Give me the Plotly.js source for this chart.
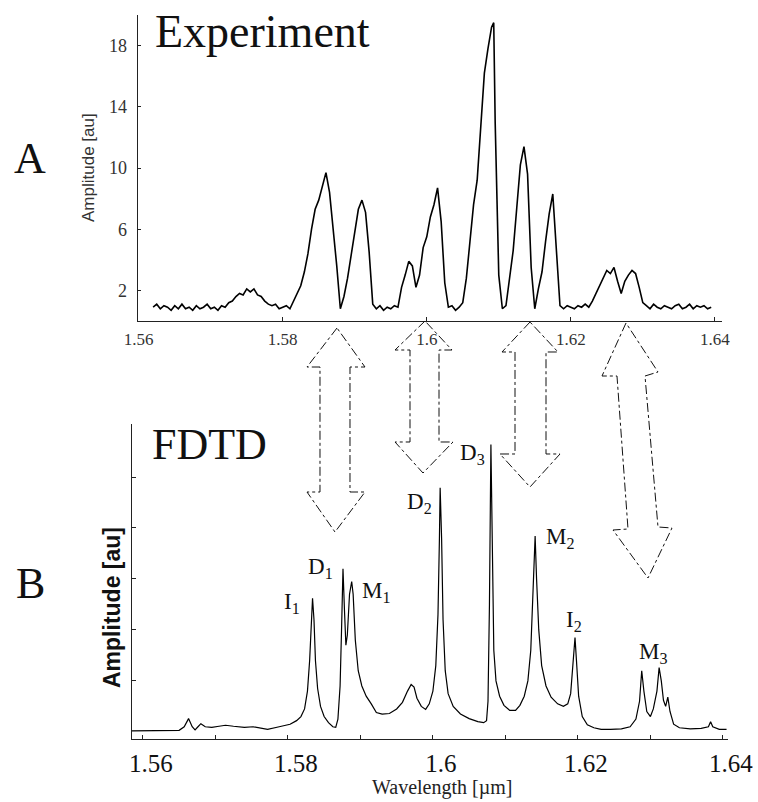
<!DOCTYPE html>
<html><head><meta charset="utf-8">
<script src="https://cdn.plot.ly/plotly-3.0.1.min.js"></script>
<style>html,body{margin:0;padding:0;background:#fff}#chart{width:758px;height:802px}</style>
</head><body><div id="chart"></div>
<script>
// ---------- Experiment (panel A) ----------
const expWavelength = [
1.5620,1.5625,1.5630,1.5635,1.5640,1.5645,1.5650,1.5655,1.5660,1.5665,1.5670,1.5675,1.5680,1.5685,1.5690,1.5695,
1.5700,1.5705,1.5710,1.5715,1.5720,1.5725,1.5730,1.5735,1.5740,1.5745,1.5750,1.5755,1.5760,1.5765,1.5770,1.5775,
1.5780,1.5785,1.5790,1.5795,1.5800,1.5805,1.5810,1.5815,1.5820,1.5825,1.5830,1.5835,1.5840,1.5845,1.5850,1.5855,
1.5860,1.5865,1.5870,1.5875,1.5880,1.5885,1.5890,1.5895,1.5900,1.5905,1.5910,1.5915,1.5920,1.5925,1.5930,1.5935,
1.5940,1.5945,1.5950,1.5955,1.5960,1.5965,1.5970,1.5975,1.5980,1.5985,1.5990,1.5995,1.6000,1.6005,1.6010,1.6015,
1.6020,1.6025,1.6030,1.6035,1.6040,1.6045,1.6050,1.6055,1.6060,1.6065,1.6070,1.6075,1.6080,1.6085,1.6090,1.6093,
1.6095,1.6100,1.6105,1.6110,1.6115,1.6120,1.6125,1.6130,1.6135,1.6140,1.6145,1.6150,1.6155,1.6160,1.6165,1.6170,
1.6175,1.6180,1.6185,1.6190,1.6195,1.6200,1.6205,1.6210,1.6215,1.6220,1.6225,1.6230,1.6235,1.6240,1.6245,1.6250,
1.6255,1.6260,1.6265,1.6270,1.6275,1.6280,1.6285,1.6290,1.6295,1.6300,1.6305,1.6310,1.6315,1.6320,1.6325,1.6330,
1.6335,1.6340,1.6345,1.6350,1.6355,1.6360,1.6365,1.6370,1.6375,1.6380,1.6385,1.6390,1.6395];
const expAmplitude = [
0.9,1.1,0.8,1.0,0.9,0.7,1.0,0.8,1.1,0.8,0.9,0.7,1.0,0.8,0.9,1.1,
0.8,0.9,0.7,1.0,0.9,1.2,1.3,1.6,1.8,1.7,2.1,1.9,2.1,1.7,1.6,1.3,
1.1,1.0,1.1,0.8,0.9,1.0,0.8,1.3,1.8,2.3,3.2,4.4,6.0,7.3,7.9,8.8,
9.7,8.4,6.2,3.6,0.8,1.6,2.8,4.4,6.0,7.3,7.9,7.1,4.5,1.1,0.8,1.0,
0.7,0.9,0.8,1.0,0.9,2.2,3.0,3.9,3.6,2.2,3.0,4.8,5.5,6.8,7.6,8.7,
6.5,2.5,0.9,1.0,0.7,0.9,1.2,2.8,5.2,7.6,9.2,12.5,16.2,17.8,19.2,19.5,
13.0,3.0,0.8,1.0,3.0,4.6,7.4,10.2,11.4,9.6,3.5,0.8,2.1,3.2,5.2,7.0,
8.3,4.5,1.0,0.8,1.0,0.9,0.8,1.0,0.9,1.1,0.9,1.3,1.8,2.3,2.7,3.3,
3.1,3.5,2.6,1.8,2.6,3.0,3.3,3.1,2.2,1.2,1.0,0.8,1.1,0.9,0.8,1.0,
0.9,0.8,1.0,1.1,0.8,0.9,1.1,0.8,1.0,0.9,1.0,0.8,0.9];

// ---------- FDTD (panel B) ----------
const fdtdWavelength = [
1.5585,1.5600,1.5620,1.5640,1.5650,1.5657,1.5663,1.5668,1.5672,1.5676,1.5680,1.5686,1.5695,1.5705,1.5714,1.5725,
1.5740,1.5752,1.5762,1.5772,1.5785,1.5795,1.5803,1.5812,1.5818,1.5823,1.5827,1.5830,1.5832,1.5834,1.5836,1.5838,
1.5841,1.5845,1.5850,1.5856,1.5862,1.5866,1.5869,1.5872,1.5874,1.5876,1.5878,1.5880,1.5882,1.5885,1.5888,1.5890,
1.5893,1.5897,1.5902,1.5908,1.5915,1.5922,1.5930,1.5940,1.5950,1.5958,1.5965,1.5970,1.5974,1.5978,1.5984,1.5990,
1.5995,1.6000,1.6004,1.6007,1.6009,1.6010,1.6012,1.6014,1.6017,1.6021,1.6028,1.6038,1.6050,1.6062,1.6070,1.6074,
1.6076,1.6078,1.6080,1.6082,1.6084,1.6087,1.6092,1.6098,1.6106,1.6114,1.6120,1.6126,1.6131,1.6135,1.6138,1.6141,
1.6143,1.6146,1.6150,1.6156,1.6163,1.6172,1.6180,1.6186,1.6190,1.6193,1.6196,1.6198,1.6201,1.6206,1.6213,1.6222,
1.6232,1.6245,1.6260,1.6272,1.6280,1.6285,1.6288,1.6291,1.6295,1.6300,1.6304,1.6309,1.6312,1.6315,1.6318,1.6321,
1.6324,1.6327,1.6332,1.6340,1.6355,1.6370,1.6380,1.6383,1.6386,1.6395,1.6405];
const fdtdAmplitude = [
0.02,0.02,0.02,0.02,0.03,0.10,0.26,0.10,0.04,0.10,0.16,0.10,0.09,0.11,0.13,0.11,
0.09,0.10,0.07,0.05,0.09,0.12,0.15,0.22,0.30,0.45,0.80,1.40,2.10,2.62,2.20,1.40,
0.85,0.50,0.30,0.18,0.10,0.09,0.25,0.90,2.00,3.20,2.40,1.70,1.90,2.70,2.95,2.70,
1.80,1.20,0.90,0.70,0.55,0.38,0.35,0.36,0.45,0.58,0.80,0.93,0.88,0.66,0.50,0.44,
0.55,0.80,1.30,2.30,3.80,4.79,3.80,2.20,1.20,0.75,0.50,0.35,0.26,0.20,0.18,0.22,
0.60,2.50,5.64,3.20,1.60,1.00,0.70,0.52,0.42,0.42,0.52,0.70,1.00,1.60,2.60,3.84,
3.00,2.00,1.30,0.90,0.68,0.55,0.50,0.55,0.75,1.30,1.85,1.40,0.70,0.30,0.14,0.08,
0.05,0.05,0.06,0.10,0.25,0.60,1.20,0.80,0.40,0.30,0.45,0.80,1.26,1.00,0.62,0.50,
0.68,0.40,0.15,0.08,0.06,0.07,0.10,0.20,0.10,0.05,0.05];

// ---------- ticks / labels ----------
const expYTickVals = [2, 6, 10, 14, 18, 20];
const expYTickText = ['2', '6', '10', '14', '18', ''];
const xMajorVals = [1.56, 1.58, 1.6, 1.62, 1.64];
const xMajorText = ['1.56', '1.58', '1.6', '1.62', '1.64'];
const fdtdXTickVals = [1.56,1.57,1.58,1.59,1.6,1.61,1.62,1.63,1.64];
const fdtdXTickText = ['1.56','','1.58','','1.6','','1.62','','1.64'];
const fdtdYTickVals = [1, 2, 3, 4, 5, 6.04];
const peakNames = ['I<sub>1</sub>','D<sub>1</sub>','M<sub>1</sub>','D<sub>2</sub>','D<sub>3</sub>','M<sub>2</sub>','I<sub>2</sub>','M<sub>3</sub>'];

// ---------- layout helpers (pixel -> paper) ----------
const W = 758, H = 802;
const px = x => x / W;
const py = y => 1 - y / H;
const SERIF = 'Liberation Serif';
const SANS = 'Liberation Sans';

// positions of decorative elements (pixels)
const peakLabelPos = [[292,603],[320,568],[376,592],[419,503],[472,454],[560,538],[574,621],[653,653]];
const arrows = [
  [[337,328],[307,367],[320,367],[320,492],[307,492],[335,532],[365,492],[350,492],[350,367],[365,367]],
  [[425,321],[395,350],[410,350],[410,442],[395,442],[423,473],[453,442],[439,442],[439,350],[452,350]],
  [[530,322],[502,352],[515,352],[515,454],[500,454],[530,487],[560,454],[546,454],[546,352],[558,352]],
  [[626,323],[602,376],[617,376],[628,529],[613,530],[648,578],[672,528],[658,527],[645,376],[658,372]]
];

const shapes = arrows.map(pts => ({
  type: 'path', xref: 'paper', yref: 'paper',
  path: 'M ' + pts.map(p => px(p[0]).toFixed(5) + ',' + py(p[1]).toFixed(5)).join(' L ') + ' Z',
  line: {color: '#111', width: 1, dash: 'dashdot'}, fillcolor: 'rgba(0,0,0,0)'
}));

const annotations = [
  {text: 'A', x: px(30), y: py(158), font: {family: SERIF, size: 44, color: '#111'}},
  {text: 'B', x: px(30), y: py(583), font: {family: SERIF, size: 44, color: '#111'}},
  {text: 'Experiment', x: px(153), y: py(32), xanchor: 'left', font: {family: SERIF, size: 46, color: '#111'}},
  {text: 'FDTD', x: px(150), y: py(444), xanchor: 'left', font: {family: SERIF, size: 44, color: '#111'}},
  {text: 'Amplitude [au]', x: px(88), y: py(168), textangle: -90, font: {family: SANS, size: 17, color: '#333'}},
  {text: '<b>Amplitude [au]</b>', x: px(112), y: py(608), textangle: -90, font: {family: SANS, size: 23, color: '#111'}},
  {text: 'Wavelength [\u00b5m]', x: px(442), y: py(787), font: {family: SERIF, size: 20, color: '#222'}}
].map(a => Object.assign({xref: 'paper', yref: 'paper', showarrow: false, xanchor: 'center', yanchor: 'middle'}, a));

peakNames.forEach((t, i) => annotations.push({
  text: t, xref: 'paper', yref: 'paper', x: px(peakLabelPos[i][0]), y: py(peakLabelPos[i][1]),
  showarrow: false, xanchor: 'center', yanchor: 'middle', font: {family: SERIF, size: 23, color: '#111'}
}));

const data = [
  {x: expWavelength, y: expAmplitude, xaxis: 'x', yaxis: 'y', type: 'scatter', mode: 'lines',
   line: {color: '#000', width: 1.6}, hoverinfo: 'skip'},
  {x: fdtdWavelength, y: fdtdAmplitude, xaxis: 'x2', yaxis: 'y2', type: 'scatter', mode: 'lines',
   line: {color: '#000', width: 1.2}, hoverinfo: 'skip'}
];

const axisCommon = {showgrid: false, zeroline: false, showline: true, linecolor: '#222', linewidth: 1.3,
  ticks: 'inside', tickcolor: '#222', mirror: false, fixedrange: true};

const layout = {
  width: W, height: H, margin: {l: 0, r: 0, t: 0, b: 0},
  paper_bgcolor: '#fff', plot_bgcolor: '#fff', showlegend: false,
  font: {family: SERIF},
  xaxis: Object.assign({}, axisCommon, {domain: [px(138), px(722)], range: [1.5599, 1.6410], anchor: 'y',
    tickvals: xMajorVals, ticktext: xMajorText, ticklen: 4,
    tickfont: {family: SERIF, size: 17, color: '#333'}, ticklabelstandoff: 2}),
  yaxis: Object.assign({}, axisCommon, {domain: [py(321), py(15)], range: [0, 20], anchor: 'x',
    tickvals: expYTickVals, ticktext: expYTickText, ticklen: 3,
    tickfont: {family: SERIF, size: 18, color: '#333'}, ticklabelstandoff: 6}),
  xaxis2: Object.assign({}, axisCommon, {domain: [px(132), px(728)], range: [1.5585, 1.6407], anchor: 'y2',
    tickvals: fdtdXTickVals, ticktext: fdtdXTickText, ticklen: 4, ticklabelshift: 8,
    tickfont: {family: SERIF, size: 25, color: '#111'}, ticklabelstandoff: 2}),
  yaxis2: Object.assign({}, axisCommon, {domain: [py(739), py(424)], range: [-0.14, 6.04], anchor: 'x2',
    tickvals: fdtdYTickVals, showticklabels: false, ticklen: 4}),
  shapes: shapes,
  annotations: annotations
};

Plotly.newPlot('chart', data, layout, {staticPlot: true, displayModeBar: false});
</script></body></html>
